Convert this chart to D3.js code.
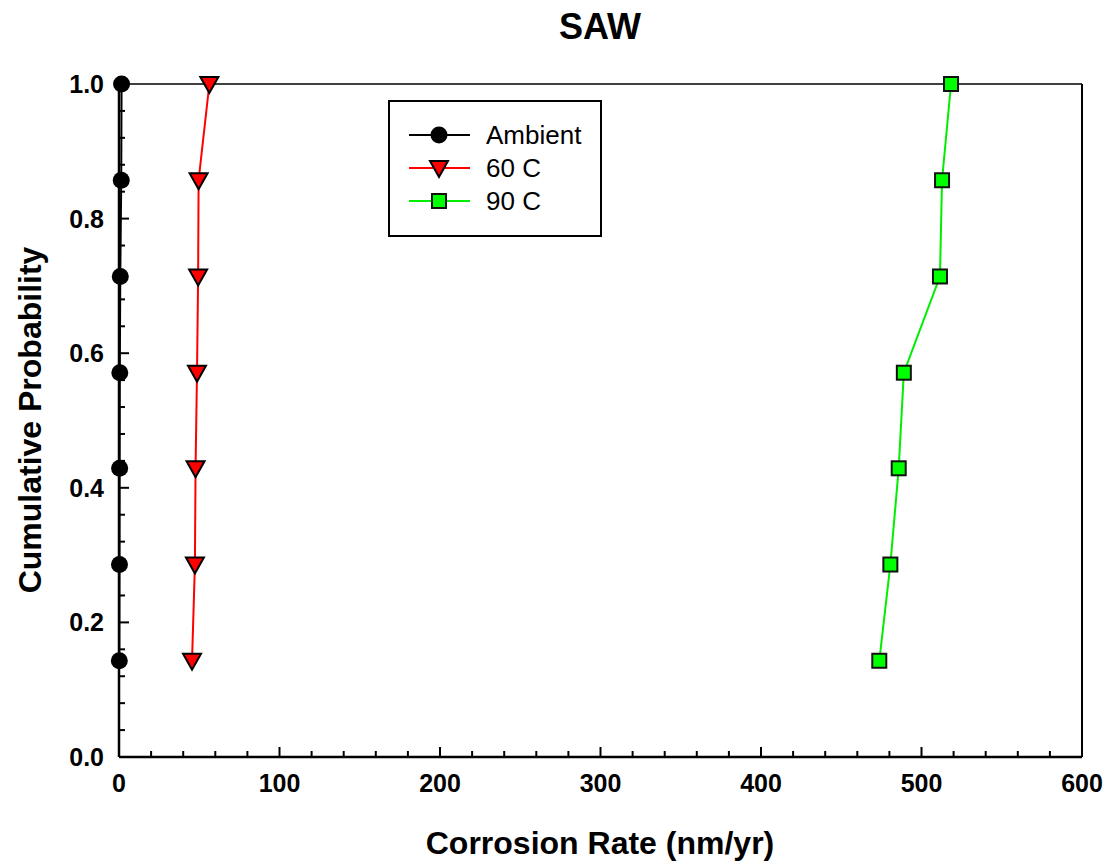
<!DOCTYPE html>
<html>
<head>
<meta charset="utf-8">
<script src="https://cdn.jsdelivr.net/npm/d3@7"></script>
<style>
body { margin: 0; background: #fff; }
text { font-family: "Liberation Sans", Arial, sans-serif; }
</style>
</head>
<body>
<svg id="chart"></svg>
<script>
// cumulative probability levels (i/7)
var probs = [0.143, 0.286, 0.429, 0.571, 0.714, 0.857, 1.0];
var ambient = [0.2, 0.3, 0.4, 0.5, 0.8, 1.4, 1.6];
var c60 = [45.5, 47.3, 47.7, 48.6, 49.3, 49.6, 56.3];
var c90 = [473.7, 480.6, 485.8, 489.0, 511.5, 512.8, 518.4];
var seriesNames = ["Ambient", "60 C", "90 C"];
var xTicks = [0, 100, 200, 300, 400, 500, 600];
var yTicks = [0.0, 0.2, 0.4, 0.6, 0.8, 1.0];

var W = 1107, H = 865;
var m = {left: 119, right: 1082, top: 84, bottom: 757};

var svg = d3.select('#chart').attr('width', W).attr('height', H);

var x = d3.scaleLinear().domain([0, 600]).range([m.left, m.right]);
var y = d3.scaleLinear().domain([0, 1]).range([m.bottom, m.top]);

// frame top/right
svg.append('line').attr('x1', m.left).attr('x2', m.right).attr('y1', m.top).attr('y2', m.top)
   .attr('stroke', '#000').attr('stroke-width', 1.5);
svg.append('line').attr('x1', m.right).attr('x2', m.right).attr('y1', m.top).attr('y2', m.bottom)
   .attr('stroke', '#000').attr('stroke-width', 2);

// minor ticks
var xMinor = d3.range(0, 601, 20);
var yMinor = d3.range(0, 1.001, 0.04);

svg.append('g').selectAll('line').data(xMinor).enter().append('line')
   .attr('x1', d => x(d)).attr('x2', d => x(d))
   .attr('y1', m.bottom).attr('y2', d => (d % 100 === 0) ? m.bottom - 10 : m.bottom - 6)
   .attr('stroke', '#000').attr('stroke-width', 2);

svg.append('g').selectAll('line').data(yMinor).enter().append('line')
   .attr('y1', d => y(d)).attr('y2', d => y(d))
   .attr('x1', m.left).attr('x2', d => (Math.round(d * 100) % 20 === 0) ? m.left + 10 : m.left + 6)
   .attr('stroke', '#000').attr('stroke-width', 2);

// axes lines
svg.append('line').attr('x1', m.left).attr('x2', m.right).attr('y1', m.bottom).attr('y2', m.bottom)
   .attr('stroke', '#000').attr('stroke-width', 2.5);
svg.append('line').attr('x1', m.left).attr('x2', m.left).attr('y1', m.top).attr('y2', m.bottom)
   .attr('stroke', '#000').attr('stroke-width', 2.5);

// tick labels
svg.append('g').selectAll('text').data(xTicks).enter().append('text')
   .attr('x', d => x(d)).attr('y', 792)
   .attr('text-anchor', 'middle').attr('font-size', 25).attr('font-weight', 'bold')
   .text(d => d);

svg.append('g').selectAll('text').data(yTicks).enter().append('text')
   .attr('x', 104).attr('y', d => y(d) + 9)
   .attr('text-anchor', 'end').attr('font-size', 25).attr('font-weight', 'bold')
   .text(d => d.toFixed(1));

// titles
svg.append('text').attr('x', 600).attr('y', 39).attr('text-anchor', 'middle')
   .attr('font-size', 36).attr('font-weight', 'bold').text('SAW');
svg.append('text').attr('x', 600).attr('y', 854).attr('text-anchor', 'middle')
   .attr('font-size', 32).attr('font-weight', 'bold').text('Corrosion Rate (nm/yr)');
svg.append('text').attr('transform', 'translate(41,420) rotate(-90)').attr('text-anchor', 'middle')
   .attr('font-size', 32).attr('font-weight', 'bold').text('Cumulative Probability');

var line = d3.line().x(d => x(d[0])).y(d => y(d[1]));

var series = [
  {name: seriesNames[0], vals: ambient, color: '#000000', fill: '#000000', shape: 'circle'},
  {name: seriesNames[1], vals: c60, color: '#ff0000', fill: '#ff0000', shape: 'tri'},
  {name: seriesNames[2], vals: c90, color: '#00ee00', fill: '#00ff00', shape: 'square'}
];

function drawMarker(g, s, cx, cy) {
  if (s.shape === 'circle') {
    g.append('circle').attr('cx', cx).attr('cy', cy).attr('r', 8.5).attr('fill', '#000');
  } else if (s.shape === 'tri') {
    g.append('path').attr('d', 'M' + (cx - 9) + ',' + (cy - 7) + 'L' + (cx + 9) + ',' + (cy - 7) + 'L' + cx + ',' + (cy + 9) + 'Z')
     .attr('fill', s.fill).attr('stroke', '#000').attr('stroke-width', 2).attr('stroke-linejoin', 'miter');
  } else {
    g.append('rect').attr('x', cx - 7).attr('y', cy - 7).attr('width', 14).attr('height', 14)
     .attr('fill', s.fill).attr('stroke', '#111').attr('stroke-width', 2);
  }
}

series.forEach(function(s) {
  var pts = s.vals.map((v, i) => [v, probs[i]]);
  svg.append('path').datum(pts).attr('d', line).attr('fill', 'none')
     .attr('stroke', s.color).attr('stroke-width', 2);
  var g = svg.append('g');
  pts.forEach(p => drawMarker(g, s, x(p[0]), y(p[1])));
});

// legend
var lg = svg.append('g');
lg.append('rect').attr('x', 389).attr('y', 101).attr('width', 212).attr('height', 135)
  .attr('fill', '#fff').attr('stroke', '#000').attr('stroke-width', 2);
series.forEach(function(s, i) {
  var ly = 135 + i * 33;
  lg.append('line').attr('x1', 409).attr('x2', 470).attr('y1', ly).attr('y2', ly)
    .attr('stroke', s.color).attr('stroke-width', 2);
  drawMarker(lg, s, 439, ly);
  lg.append('text').attr('x', 486).attr('y', ly + 9).attr('font-size', 26).text(s.name);
});
</script>
</body>
</html>
